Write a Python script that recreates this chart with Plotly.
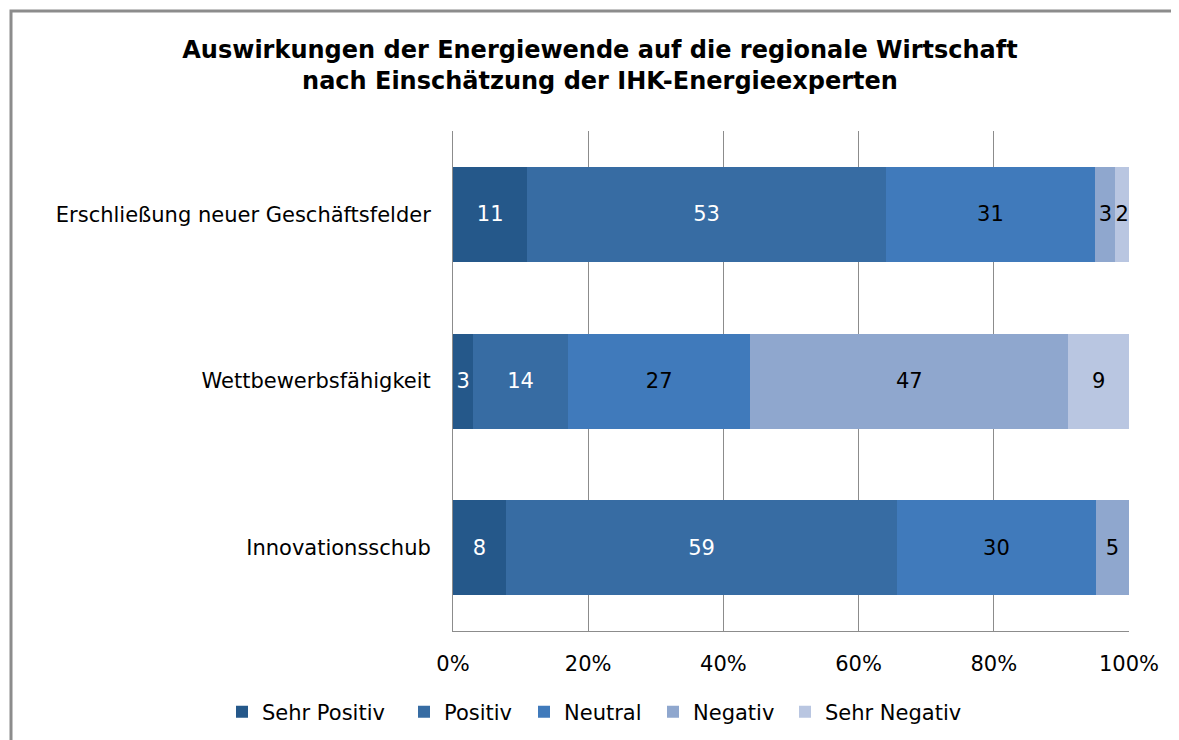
import plotly.graph_objects as go

categories = ["Erschließung neuer Geschäftsfelder", "Wettbewerbsfähigkeit", "Innovationsschub"]
series_names = ["Sehr Positiv", "Positiv", "Neutral", "Negativ", "Sehr Negativ"]
sehr_positiv = [11, 3, 8]
positiv = [53, 14, 59]
neutral = [31, 27, 30]
negativ = [3, 47, 5]
sehr_negativ = [2, 9, None]
x_ticks = [0, 20, 40, 60, 80, 100]
x_ticklabels = ["0%", "20%", "40%", "60%", "80%", "100%"]

series_values = [sehr_positiv, positiv, neutral, negativ, sehr_negativ]
colors = ["#25588A", "#376CA3", "#407ABB", "#8FA7CE", "#B9C6E1"]
text_colors = ["white", "white", "black", "black", "black"]
# screen x where each legend entry's text starts
legend_text_x = [262, 444, 564, 693, 825]

FONT = "DejaVu Sans, Verdana, sans-serif"
FS = 21

OFF = 8  # page body offset
W, H = 1179, 740
SL, SR, ST, SB = 453, 1129, 131, 631
L, T = SL - OFF, ST - OFF
R, B = W - (SR - OFF), H - (SB - OFF)
pw, ph = W - L - R, H - T - B

def px_x(p):
    return (p - OFF - L) / pw

def px_y(p):
    return (H - B - (p - OFF)) / ph

fig = go.Figure()
legend_ids = ["legend"] + [f"legend{i}" for i in range(2, len(series_names) + 1)]
for name, vals, col, tcol, lid in zip(series_names, series_values, colors, text_colors, legend_ids):
    fig.add_trace(go.Bar(
        name=name, y=categories, x=vals, orientation="h",
        marker=dict(color=col, line=dict(width=0)),
        text=[("" if v is None else str(v)) for v in vals],
        textposition="inside", insidetextanchor="middle", textangle=0,
        textfont=dict(color=tcol, size=FS, family=FONT),
        cliponaxis=False, legend=lid,
    ))

legend_layouts = {}
for lid, tx in zip(legend_ids, legend_text_x):
    legend_layouts[lid] = dict(
        orientation="h", xref="container", yref="container",
        x=(tx - 40 - OFF) / W, xanchor="left",
        y=1 - (712 - OFF) / H, yanchor="middle",
        font=dict(size=FS, family=FONT), itemwidth=30,
        bgcolor="rgba(0,0,0,0)",
    )

fig.update_layout(
    width=W, height=H,
    barmode="stack", barnorm="percent", bargap=0.43,
    margin=dict(l=L, r=R, t=T, b=B),
    paper_bgcolor="white", plot_bgcolor="white",
    font=dict(family=FONT, size=FS, color="black"),
    uniformtext=dict(minsize=FS, mode="show"),
    title=dict(
        text="<b>Auswirkungen der Energiewende auf die regionale Wirtschaft<br>nach Einschätzung der IHK-Energieexperten</b>",
        x=(600 - OFF) / W, xanchor="center", y=1 - (58 - OFF) / H, yanchor="top",
        font=dict(size=24, family=FONT, color="black"),
    ),
    xaxis=dict(
        range=[0, 100], tickvals=x_ticks, ticktext=x_ticklabels,
        showgrid=True, gridcolor="#8C8C8C", gridwidth=1,
        showline=True, linecolor="#8C8C8C", linewidth=1,
        zeroline=False, ticks="", ticklabelstandoff=14,
        tickfont=dict(size=FS),
    ),
    yaxis=dict(
        autorange="reversed", showgrid=False,
        showline=True, linecolor="#8C8C8C", linewidth=1,
        ticks="", ticklabelstandoff=17, tickfont=dict(size=FS),
    ),
    showlegend=True,
    **legend_layouts,
)

fig.add_shape(
    type="rect", xref="paper", yref="paper",
    x0=px_x(11), x1=px_x(W + 30), y0=px_y(H + 30), y1=px_y(11),
    line=dict(color="#8C8C8C", width=3), fillcolor="rgba(0,0,0,0)", layer="below",
)

fig.write_html("out.html")
